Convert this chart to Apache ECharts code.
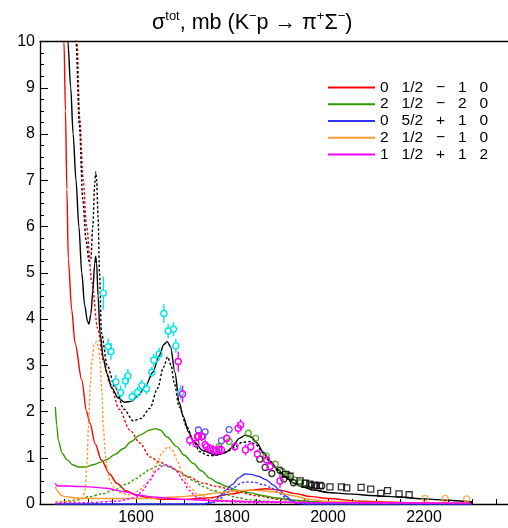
<!DOCTYPE html>
<html>
<head>
<meta charset="utf-8">
<script src="https://cdn.jsdelivr.net/npm/echarts@6/dist/echarts.min.js"></script>
<style>
  html, body { margin: 0; padding: 0; background: #fff; }
  #chart { width: 508px; height: 528px; }
</style>
</head>
<body>
<div id="chart"></div>
<script>
// tick values
const xLabels = [1600, 1800, 2000, 2200];
const xTicks = [1450, 1500, 1550, 1600, 1650, 1700, 1750, 1800, 1850, 1900, 1950, 2000,
                2050, 2100, 2150, 2200, 2250, 2300, 2350];

const legendNames = ['0   1/2   \u2212   1   0', '2   1/2   \u2212   2   0', '0   5/2   +   1   0',
                     '2   1/2   \u2212   1   0', '1   1/2   +   1   2'];

// total cross section, full fit (solid) and second solution (dotted)
const totalSolid = [[1452, 11.5], [1458, 10], [1464, 9], [1469, 8], [1475, 7], [1481, 6], [1487, 5],
  [1493, 4.3], [1499, 3.95], [1502, 3.89], [1506, 4.1], [1510, 4.6], [1514, 5.2], [1516, 5.35],
  [1518, 5.2], [1521, 4.5], [1525, 3.7], [1532, 3.15], [1539, 2.83], [1550, 2.5], [1563, 2.29],
  [1577, 2.2], [1590, 2.22], [1605, 2.35], [1620, 2.55], [1635, 2.85], [1648, 3.2], [1658, 3.45],
  [1665, 3.51], [1672, 3.4], [1681, 2.85], [1690, 2.2], [1698, 1.9], [1710, 1.55], [1720, 1.35],
  [1740, 1.15], [1765, 1.06], [1785, 1.1], [1800, 1.22], [1815, 1.42], [1828, 1.49], [1840, 1.45],
  [1852, 1.32], [1865, 1.12], [1880, 0.92], [1896, 0.74], [1910, 0.6], [1927, 0.46], [1950, 0.36],
  [1970, 0.3], [2000, 0.25], [2040, 0.22], [2100, 0.18], [2150, 0.15], [2200, 0.11], [2250, 0.08],
  [2300, 0.05], [2300, 0]];
const totalDotted = [[1472, 11.5], [1475, 10], [1482, 8.2], [1489, 6.6], [1496, 5.7], [1502, 5.25],
  [1506, 5.3], [1510, 6.0], [1514, 6.9], [1516, 7.18], [1518, 7.0], [1521, 6.2], [1524, 5.0],
  [1528, 3.7], [1540, 3.0], [1556, 2.53], [1575, 2.05], [1594, 1.8], [1610, 1.85], [1629, 2.07],
  [1645, 2.5], [1657, 2.95], [1666, 3.18], [1673, 3.0], [1680, 2.6], [1690, 2.1], [1706, 1.67],
  [1720, 1.35], [1733, 1.13], [1750, 1.05], [1765, 1.05], [1789, 1.13], [1805, 1.22], [1820, 1.33],
  [1837, 1.35], [1850, 1.28], [1865, 1.1], [1880, 0.9], [1896, 0.72], [1910, 0.58], [1927, 0.45],
  [1950, 0.36], [1970, 0.3], [2000, 0.25]];

// partial waves
const redSolid = [[1447, 11.5], [1450, 10], [1453, 8.5], [1456, 6.8], [1459, 5.3], [1466, 4.2],
  [1473, 3.48], [1487, 2.68], [1497, 2.0], [1504, 1.75], [1515, 1.3], [1528, 0.95], [1545, 0.65],
  [1560, 0.45], [1580, 0.28], [1601, 0.19], [1629, 0.13], [1660, 0.1], [1700, 0.1], [1750, 0.13],
  [1800, 0.22], [1840, 0.3], [1870, 0.33], [1900, 0.3], [1930, 0.23], [1965, 0.16], [2000, 0.12],
  [2067, 0.06], [2170, 0.03], [2300, 0.02]];
const redDotted = [[1474, 11.5], [1477, 10], [1483, 8.3], [1490, 7.0], [1497, 6.0], [1508, 4.8],
  [1520, 3.8], [1532, 3.1], [1546, 2.6], [1565, 2.05], [1587, 1.6], [1608, 1.32], [1629, 1.02],
  [1650, 0.9], [1671, 0.81], [1690, 0.7], [1706, 0.6], [1740, 0.45], [1768, 0.38], [1810, 0.27],
  [1850, 0.18], [1900, 0.1], [1950, 0.06], [2000, 0.03]];
const greenSolid = [[1432, 2.1], [1435, 1.7], [1438, 1.38], [1446, 1.1], [1456, 0.96], [1468, 0.85],
  [1480, 0.8], [1495, 0.8], [1511, 0.85], [1525, 0.9], [1539, 0.96], [1556, 1.07], [1574, 1.2],
  [1590, 1.35], [1608, 1.49], [1629, 1.6], [1640, 1.63], [1650, 1.6], [1665, 1.45], [1685, 1.24],
  [1700, 1.06], [1719, 0.88], [1736, 0.72], [1754, 0.56], [1770, 0.46], [1789, 0.38], [1810, 0.3],
  [1837, 0.24], [1865, 0.18], [1893, 0.13], [1930, 0.08], [1970, 0.05], [2000, 0.04], [2100, 0.03],
  [2300, 0.02]];
const greenDotted = [[1440, 0.02], [1470, 0.08], [1504, 0.16], [1530, 0.22], [1553, 0.3], [1580, 0.43],
  [1601, 0.55], [1615, 0.66], [1629, 0.75], [1650, 0.84], [1660, 0.84], [1671, 0.79], [1690, 0.7],
  [1706, 0.59], [1720, 0.5], [1740, 0.38], [1760, 0.29], [1789, 0.2], [1810, 0.14], [1837, 0.09],
  [1870, 0.06], [1900, 0.04], [1950, 0.02], [2000, 0.01]];
const blueSolid = [[1432, 0], [1740, 0], [1754, 0.02], [1765, 0.08], [1775, 0.18], [1787, 0.3],
  [1800, 0.42], [1815, 0.57], [1827, 0.65], [1840, 0.64], [1855, 0.6], [1870, 0.53], [1885, 0.42],
  [1900, 0.29], [1914, 0.16], [1925, 0.07], [1935, 0.02], [1950, 0], [2300, 0]];
const blueDotted = [[1432, 0], [1750, 0], [1760, 0.02], [1775, 0.12], [1790, 0.25], [1805, 0.36],
  [1815, 0.43], [1827, 0.48], [1845, 0.47], [1865, 0.42], [1880, 0.36], [1895, 0.26], [1910, 0.15],
  [1921, 0.08], [1935, 0.02], [1950, 0], [2300, 0]];
const orangeSolid = [[1432, 0.38], [1436, 0.28], [1444, 0.19], [1452, 0.16], [1476, 0.13], [1520, 0.12],
  [1580, 0.12], [1629, 0.12], [1680, 0.15], [1733, 0.19], [1770, 0.24], [1803, 0.28], [1835, 0.3],
  [1860, 0.29], [1890, 0.26], [1928, 0.18], [1960, 0.1], [1997, 0.06], [2050, 0.04], [2150, 0.03],
  [2300, 0.03]];
const orangeDotted = [[1432, 0.05], [1470, 0.06], [1488, 0.1], [1494, 0.3], [1498, 0.9], [1501, 1.67],
  [1505, 2.6], [1508, 3.1], [1513, 3.45], [1518, 3.51], [1522, 3.4], [1525, 3.1], [1529, 2.4],
  [1532, 1.67], [1536, 1.1], [1539, 0.8], [1546, 0.5], [1553, 0.37], [1565, 0.25], [1585, 0.2],
  [1605, 0.28], [1620, 0.42], [1629, 0.52], [1643, 0.88], [1655, 1.12], [1667, 1.24], [1677, 1.15],
  [1685, 0.95], [1699, 0.59], [1712, 0.37], [1726, 0.23], [1750, 0.12], [1800, 0.07], [1850, 0.05],
  [1950, 0.03], [2300, 0.02]];
const magentaSolid = [[1432, 0.45], [1436, 0.39], [1456, 0.39], [1480, 0.38], [1504, 0.37], [1539, 0.34],
  [1574, 0.27], [1608, 0.19], [1629, 0.16], [1660, 0.13], [1699, 0.1], [1768, 0.07], [1850, 0.05],
  [2000, 0.03], [2300, 0.02]];
const magentaDotted = [[1432, 0.02], [1500, 0.03], [1560, 0.06], [1600, 0.14], [1615, 0.3], [1629, 0.52],
  [1643, 0.73], [1655, 0.82], [1665, 0.84], [1675, 0.8], [1685, 0.7], [1699, 0.5], [1710, 0.3],
  [1726, 0.15], [1760, 0.06], [1850, 0.03], [2300, 0.01]];

// measurements: [W, sigma, error]
const cyanPts = [[1532, 4.56, 0.36], [1542, 3.4, 0.18], [1548, 3.3, 0.18], [1558, 2.64, 0.15],
  [1568, 2.41, 0.15], [1578, 2.66, 0.15], [1583, 2.77, 0.15], [1592, 2.32, 0.12], [1603, 2.41, 0.12],
  [1612, 2.56, 0.12], [1622, 2.49, 0.12], [1633, 2.85, 0.12], [1637, 3.11, 0.14], [1648, 3.24, 0.14],
  [1658, 4.12, 0.2], [1667, 3.74, 0.15], [1678, 3.78, 0.15], [1683, 3.42, 0.15], [1693, 2.41, 0.15]];
const magentaPts = [[1688, 3.08, 0.22], [1697, 2.38, 0.18], [1712, 1.38, 0.12], [1725, 1.31, 0.1],
  [1730, 1.46, 0.1], [1737, 1.46, 0.1], [1744, 1.28, 0.1], [1747, 1.24, 0.1], [1754, 1.2, 0.1],
  [1761, 1.17, 0.1], [1767, 1.15, 0.1], [1773, 1.18, 0.1], [1778, 1.17, 0.1], [1789, 1.42, 0.1],
  [1806, 1.24, 0.1], [1813, 1.64, 0.12], [1818, 1.71, 0.12], [1828, 1.17, 0.12], [1839, 1.24, 0.1],
  [1853, 1.08, 0.1], [1872, 0.95, 0.1], [1879, 0.81, 0.1], [1900, 0.5, 0.15]];
const bluePts = [[1730, 1.6], [1739, 1.46], [1744, 1.56], [1765, 1.15], [1778, 1.37], [1794, 1.61]];
const redPts = [[1728, 1.46], [1789, 1.42]];
const greenPts = [[1773, 1.24], [1794, 1.35], [1834, 1.53], [1849, 1.42], [1871, 1.04], [1890, 0.86],
  [1905, 0.7], [1917, 0.63], [1930, 0.52], [1942, 0.46], [1952, 0.45]];
const blackCircles = [[1858, 0.97], [1869, 0.79], [1883, 0.66], [1900, 0.73], [1908, 0.54],
  [1928, 0.46], [1966, 0.41], [1976, 0.39], [1987, 0.39]];
const blackSquares = [[1912, 0.64], [1921, 0.6], [1942, 0.5], [1953, 0.45], [1962, 0.43], [1972, 0.41],
  [1983, 0.4], [2004, 0.37], [2028, 0.37], [2039, 0.35], [2069, 0.36], [2089, 0.32], [2110, 0.23],
  [2124, 0.29], [2148, 0.22], [2169, 0.2]];
const orangePts = [[2202, 0.12], [2244, 0.12], [2289, 0.11]];

const RED = '#ff0000', GREEN = '#339900', BLUE = '#3333ff', ORANGE = '#ff9933', MAGENTA = '#ff00ff';
const CYAN = '#00e5e5';

function curve(name, data, color, dotted, z) {
  return {
    name: name, type: 'line', data: data, symbol: 'none', showSymbol: false,
    smooth: 0.3, smoothMonotone: 'x', clip: true, z: z || 2,
    lineStyle: { color: color, width: 1.4, type: dotted ? [2.5, 2] : 'solid' },
    itemStyle: { color: color },
    emphasis: { disabled: true }, silent: true
  };
}

function points(data, color, symbol) {
  return {
    type: 'scatter', data: data, symbol: symbol || 'circle', symbolSize: 6, z: 5,
    itemStyle: { color: 'rgba(0,0,0,0)', borderColor: color, borderWidth: 1.3 },
    silent: true
  };
}

function errPoints(data, color) {
  return {
    type: 'custom', data: data, z: 6, silent: true,
    encode: { x: 0, y: 1 },
    renderItem: function (params, api) {
      const x = api.value(0), y = api.value(1), e = api.value(2);
      const p = api.coord([x, y]);
      const hi = api.coord([x, y + e]);
      const lo = api.coord([x, y - e]);
      const r = 3;
      const st = { stroke: color, lineWidth: 1.4, fill: null };
      return {
        type: 'group',
        children: [
          { type: 'line', shape: { x1: p[0], y1: hi[1], x2: p[0], y2: p[1] - r }, style: st },
          { type: 'line', shape: { x1: p[0], y1: p[1] + r, x2: p[0], y2: lo[1] }, style: st },
          { type: 'circle', shape: { cx: p[0], cy: p[1], r: r }, style: { stroke: color, lineWidth: 1.4, fill: 'rgba(0,0,0,0)' } }
        ]
      };
    }
  };
}

const chart = echarts.init(document.getElementById('chart'), null, { renderer: 'canvas' });

const option = {
  animation: false,
  backgroundColor: '#fff',
  textStyle: { fontFamily: 'Liberation Sans, Arial, sans-serif' },
  title: {
    text: '{a|\u03c3}{s|tot}{a|, mb (K}{s|\u2212}{a|p \u2192 \u03c0}{s|+}{a|\u03a3}{s|\u2212}{a|)}',
    left: 147, top: 5,
    textStyle: {
      fontWeight: 'normal',
      rich: {
        a: { fontSize: 21.5, color: '#000', lineHeight: 26, fontWeight: 'normal', fontFamily: 'Liberation Sans' },
        s: { fontSize: 13, color: '#000', lineHeight: 13, verticalAlign: 'top', fontWeight: 'normal', fontFamily: 'Liberation Sans' }
      }
    }
  },
  legend: {
    data: legendNames,
    orient: 'vertical', left: 328, top: 79, padding: 0,
    icon: 'rect', itemWidth: 47, itemHeight: 2, itemGap: 0,
    selectedMode: false,
    textStyle: { fontSize: 15.5, color: '#000', fontFamily: 'Liberation Sans', lineHeight: 16.8 }
  },
  grid: { left: 40, right: 0, top: 41.5, bottom: 24, show: false },
  xAxis: [{
    type: 'value', min: 1400, max: 2375,
    axisLine: { show: true, onZero: false, lineStyle: { color: '#000', width: 1.3 } },
    axisTick: { show: true, inside: true, length: 5, customValues: xTicks, lineStyle: { color: '#000' } },
    axisLabel: {
      customValues: xLabels, fontSize: 16, color: '#000', margin: 6, fontFamily: 'Liberation Sans',
      formatter: function (v) { return String(v); }
    },
    splitLine: { show: false }
  }, {
    type: 'value', min: 1400, max: 2375, position: 'top',
    axisLine: { show: true, onZero: false, lineStyle: { color: '#000', width: 1.3 } },
    axisTick: { show: false }, axisLabel: { show: false }, splitLine: { show: false }
  }],
  yAxis: {
    type: 'value', min: 0, max: 10, interval: 1,
    axisLine: { show: true, lineStyle: { color: '#000', width: 1.3 } },
    axisTick: { show: true, inside: true, length: 8, lineStyle: { color: '#000' } },
    minorTick: { show: true, splitNumber: 4, length: 4, lineStyle: { color: '#000' } },
    axisLabel: { fontSize: 16, color: '#000', margin: 5, fontFamily: 'Liberation Sans' },
    splitLine: { show: false }
  },
  series: [
    curve(legendNames[0], redSolid, RED, false),
    curve('red dotted', redDotted, RED, true),
    curve(legendNames[1], greenSolid, GREEN, false),
    curve('green dotted', greenDotted, GREEN, true),
    curve(legendNames[2], blueSolid, BLUE, false),
    curve('blue dotted', blueDotted, BLUE, true),
    curve(legendNames[3], orangeSolid, ORANGE, false),
    curve('orange dotted', orangeDotted, ORANGE, true),
    curve(legendNames[4], magentaSolid, MAGENTA, false),
    curve('magenta dotted', magentaDotted, MAGENTA, true),
    curve('total dotted', totalDotted, '#000', true, 3),
    curve('total', totalSolid, '#000', false, 3),
    errPoints(cyanPts, CYAN),
    errPoints(magentaPts, MAGENTA),
    points(bluePts, BLUE),
    points(redPts, RED),
    points(greenPts, GREEN),
    points(blackCircles, '#000'),
    points(blackSquares, '#000', 'rect'),
    points(orangePts, ORANGE)
  ]
};

chart.setOption(option);
</script>
</body>
</html>
